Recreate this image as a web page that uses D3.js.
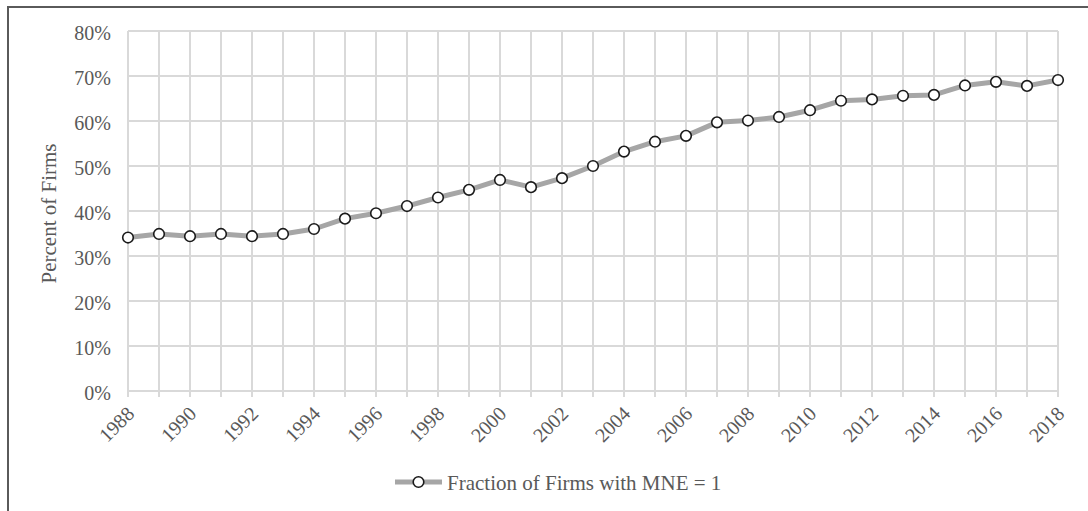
<!DOCTYPE html>
<html>
<head>
<meta charset="utf-8">
<script src="https://cdn.jsdelivr.net/npm/d3@7"></script>
<style>
  html, body { margin: 0; padding: 0; background: #fff; }
  svg { display: block; }
  text { font-family: "Liberation Serif", "Times New Roman", serif; fill: #595959; }
</style>
</head>
<body>
<svg id="chart" width="1088" height="511"></svg>
<script>
const years = [1988,1989,1990,1991,1992,1993,1994,1995,1996,1997,1998,1999,2000,2001,2002,2003,2004,2005,2006,2007,2008,2009,2010,2011,2012,2013,2014,2015,2016,2017,2018];
const fractionMNE = [34.1,34.9,34.4,34.9,34.4,34.9,36.0,38.3,39.5,41.1,43.0,44.7,46.9,45.3,47.3,50.0,53.2,55.4,56.7,59.7,60.1,60.9,62.4,64.5,64.8,65.6,65.8,67.9,68.7,67.8,69.1];
const yTicks = [0,10,20,30,40,50,60,70,80];
const xTickLabels = [1988,1990,1992,1994,1996,1998,2000,2002,2004,2006,2008,2010,2012,2014,2016,2018];
const seriesName = "Fraction of Firms with MNE = 1";
const yTitle = "Percent of Firms";

const svg = d3.select("#chart");

// outer frame
svg.append("rect").attr("x", 8).attr("y", 7).attr("width", 1100).attr("height", 530)
  .attr("fill", "none").attr("stroke", "#5a5a5a").attr("stroke-width", 2);

const x = d3.scaleLinear().domain([1988, 2018]).range([128, 1058]);
const y = d3.scaleLinear().domain([0, 80]).range([391, 31]);

// gridlines
const grid = svg.append("g");
grid.selectAll("line.h").data(yTicks).join("line")
  .attr("x1", x(1988)).attr("x2", x(2018))
  .attr("y1", d => y(d)).attr("y2", d => y(d))
  .attr("stroke", "#d9d9d9").attr("stroke-width", 2);
grid.selectAll("line.v").data(years).join("line")
  .attr("x1", d => x(d)).attr("x2", d => x(d))
  .attr("y1", y(80)).attr("y2", y(0) + 6)
  .attr("stroke", "#d9d9d9").attr("stroke-width", 2);

// y axis labels
const yAxis = d3.axisLeft(y).tickValues(yTicks).tickFormat(d => d + "%").tickSize(0).tickPadding(17);
const gy = svg.append("g").attr("transform", `translate(${x(1988)},0)`).call(yAxis);
gy.select(".domain").remove();
gy.selectAll("text").attr("font-size", 20).attr("fill", "#595959")
  .attr("font-family", "Liberation Serif, Times New Roman, serif").attr("dy", "0.42em");

// x axis labels
const xAxis = d3.axisBottom(x).tickValues(xTickLabels).tickFormat(d3.format("d")).tickSize(0);
const gx = svg.append("g").attr("transform", `translate(0,${y(0)})`).call(xAxis);
gx.select(".domain").remove();
gx.selectAll("text")
  .attr("font-size", 20).attr("fill", "#595959")
  .attr("font-family", "Liberation Serif, Times New Roman, serif")
  .attr("text-anchor", "end").attr("dy", null).attr("y", 0)
  .attr("transform", "translate(7,24) rotate(-45)");

// y title
svg.append("text").attr("transform", `translate(56,${(140 + 287) / 2}) rotate(-90)`)
  .attr("text-anchor", "middle").attr("font-size", 21).text(yTitle);

// series
const data = years.map((yr, i) => ({yr, v: fractionMNE[i]}));
const line = d3.line().x(d => x(d.yr)).y(d => y(d.v));
svg.append("path").datum(data).attr("d", line)
  .attr("fill", "none").attr("stroke", "#a6a6a6").attr("stroke-width", 5)
  .attr("stroke-linejoin", "round").attr("stroke-linecap", "round");
svg.append("g").selectAll("circle").data(data).join("circle")
  .attr("cx", d => x(d.yr)).attr("cy", d => y(d.v)).attr("r", 5.3)
  .attr("fill", "#fff").attr("stroke", "#1a1a1a").attr("stroke-width", 1.6);

// legend
const lg = svg.append("g").attr("transform", "translate(395,482)");
lg.append("line").attr("x1", 0).attr("x2", 47).attr("y1", 0).attr("y2", 0)
  .attr("stroke", "#a6a6a6").attr("stroke-width", 5);
lg.append("circle").attr("cx", 23.5).attr("cy", 0).attr("r", 5.3)
  .attr("fill", "#fff").attr("stroke", "#1a1a1a").attr("stroke-width", 1.6);
lg.append("text").attr("x", 52).attr("y", 8).attr("font-size", 21).text(seriesName);
</script>
</body>
</html>
